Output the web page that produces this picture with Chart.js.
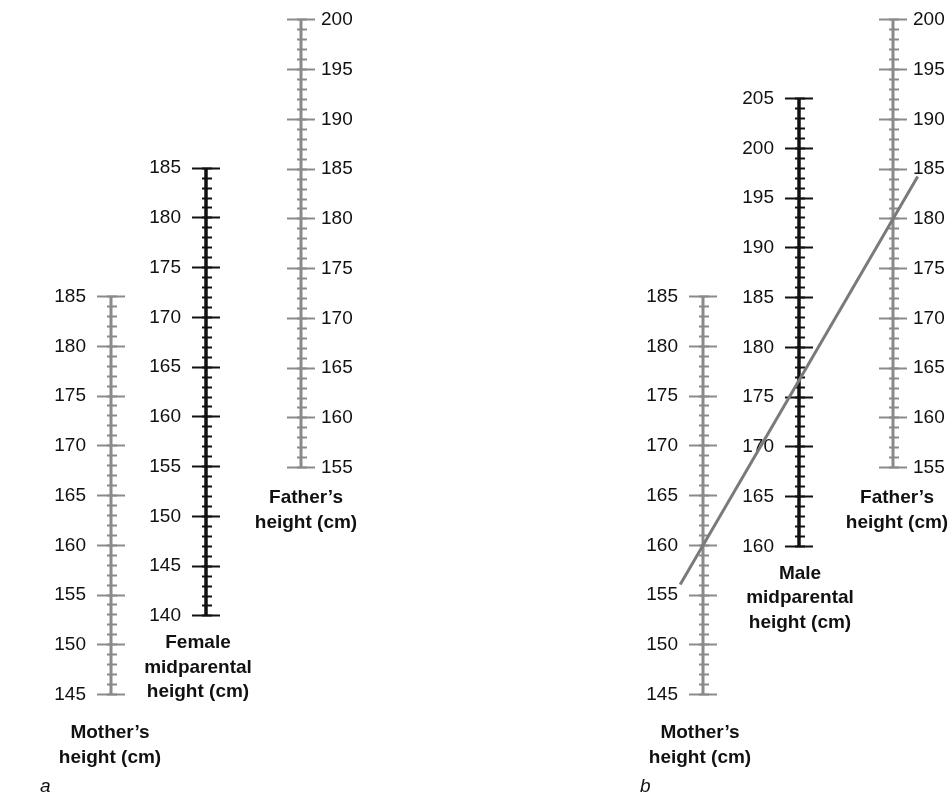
<!DOCTYPE html>
<html>
<head>
<meta charset="utf-8">
<title>Midparental height nomograms</title>
<script src="https://cdn.jsdelivr.net/npm/chart.js@4/dist/chart.umd.min.js"></script>
<style>
  html, body { margin: 0; padding: 0; background: #ffffff; }
  canvas { display: block; }
</style>
</head>
<body>
<canvas id="nomogram" width="951" height="799"></canvas>
<script>
// ---- Scale data (cm) ----
const motherRange = [145, 185];
const fatherRange = [155, 200];
const femaleMidRange = [140, 185];
const maleMidRange = [160, 205];
const midparentalOffset = 6.5;        // girls: (M+F)/2 - 6.5, boys: (M+F)/2 + 6.5
const minorStep = 1;
const majorStep = 5;
const exampleMother = 160;            // worked example on the boys' nomogram
const exampleFather = 180;

const motherTitle = ['Mother\u2019s', 'height (cm)'];
const fatherTitle = ['Father\u2019s', 'height (cm)'];
const femaleTitle = ['Female', 'midparental', 'height (cm)'];
const maleTitle = ['Male', 'midparental', 'height (cm)'];
const panelLetters = ['a', 'b'];

// ---- Layout ----
const W = 951, H = 799;
const PAD_TOP = 18, PAD_BOTTOM = 79;
const PX_PER_CM = 9.95;
const SPAN = (H - PAD_TOP - PAD_BOTTOM) / PX_PER_CM;   // cm shown by every vertical axis
const MOTHER_BASE = 142.44;   // mother's value at the bottom edge of the plot area
const FATHER_BASE = 129.64;   // father's value at the bottom edge of the plot area
const GRAY = '#8a8a8a';
const BLACK = '#111111';
const TEXT = '#111111';
const FONT = '"Liberation Sans", Arial, Helvetica, sans-serif';
const FONT_SIZE = 19;
const LINE_EXTENT = [-0.12, 1.13];   // how far the example line runs past the two parent axes

Chart.defaults.font.family = FONT;

// width of a three-digit label, used to line up the labels on the right of an axis
const measureCtx = document.createElement('canvas').getContext('2d');
measureCtx.font = FONT_SIZE + 'px ' + FONT;
const labelWidth = measureCtx.measureText('200').width;

const axesDef = [
  { id: 'motherA', col: 111, range: motherRange, base: MOTHER_BASE, side: 'left',
    color: GRAY, spine: 3, title: motherTitle, titleDx: -1, titleDy: 38.5 },
  { id: 'femaleMid', col: 206, range: femaleMidRange,
    base: (MOTHER_BASE + FATHER_BASE) / 2 - midparentalOffset, side: 'left',
    color: BLACK, spine: 3.5, title: femaleTitle, titleDx: -8, titleDy: 27 },
  { id: 'fatherA', col: 301, range: fatherRange, base: FATHER_BASE, side: 'right',
    color: GRAY, spine: 3, title: fatherTitle, titleDx: 5, titleDy: 30.5 },
  { id: 'motherB', col: 703, range: motherRange, base: MOTHER_BASE, side: 'left',
    color: GRAY, spine: 3, title: motherTitle, titleDx: -3, titleDy: 38.5 },
  { id: 'maleMid', col: 799, range: maleMidRange,
    base: (MOTHER_BASE + FATHER_BASE) / 2 + midparentalOffset, side: 'left',
    color: BLACK, spine: 3.5, title: maleTitle, titleDx: 1, titleDy: 27 },
  { id: 'fatherB', col: 893, range: fatherRange, base: FATHER_BASE, side: 'right',
    color: GRAY, spine: 3, title: fatherTitle, titleDx: 4, titleDy: 30.5 }
];

const CLEAR = 'rgba(0,0,0,0)';
const inRange = (v, r) => v >= r[0] - 1e-6 && v <= r[1] + 1e-6;

function buildScales() {
  const scales = { x: { type: 'linear', min: 0, max: W, display: false } };
  for (const a of axesDef) {
    const common = {
      type: 'linear', axis: 'y', min: a.base, max: a.base + SPAN,
      position: { x: a.col }
    };
    const tickColor = ctx => (ctx.tick && inRange(ctx.tick.value, a.range)) ? a.color : CLEAR;
    // long ticks every 5 cm, reaching both sides of the axis
    scales[a.id] = Object.assign({}, common, {
      border: { display: true, width: 28, color: CLEAR },
      grid: { display: true, drawOnChartArea: false, drawTicks: true,
              tickLength: -28, tickWidth: 2, tickColor },
      ticks: { display: false, stepSize: majorStep, autoSkip: false, includeBounds: false }
    });
    // short ticks every cm
    scales[a.id + 'Minor'] = Object.assign({}, common, {
      border: { display: true, width: 8, color: CLEAR },
      grid: { display: true, drawOnChartArea: false, drawTicks: true,
              tickLength: -10, tickWidth: 2, tickColor },
      ticks: { display: false, stepSize: minorStep, autoSkip: false, includeBounds: false }
    });
    // numeric labels
    const labelX = a.side === 'left' ? a.col - 25 : a.col + 20 + labelWidth;
    scales[a.id + 'Labels'] = Object.assign({}, common, {
      position: { x: labelX },
      border: { display: false },
      grid: { display: false },
      ticks: {
        display: true, stepSize: majorStep, autoSkip: false, includeBounds: false,
        padding: 0, color: TEXT, font: { size: FONT_SIZE, family: FONT },
        callback: v => inRange(v, a.range) ? String(v) : ''
      }
    });
  }
  return scales;
}

function spineDatasets() {
  return axesDef.map(a => ({
    type: 'line',
    label: a.id,
    xAxisID: 'x',
    yAxisID: a.id,
    data: [{ x: a.col, y: a.range[0] }, { x: a.col, y: a.range[1] }],
    borderColor: a.color,
    borderWidth: a.spine,
    pointRadius: 0,
    borderCapStyle: 'butt',
    fill: false
  }));
}

// Example on the boys' nomogram: mother 160 cm joined to father 180 cm.
// Father values are carried onto the mother's axis (both axes share the same cm scale).
function exampleDataset() {
  const m = axesDef.find(a => a.id === 'motherB');
  const f = axesDef.find(a => a.id === 'fatherB');
  const fatherOnMotherAxis = exampleFather - f.base + m.base;
  const pt = t => ({
    x: m.col + t * (f.col - m.col),
    y: exampleMother + t * (fatherOnMotherAxis - exampleMother)
  });
  return {
    type: 'line',
    label: 'example',
    xAxisID: 'x',
    yAxisID: 'motherB',
    data: [pt(LINE_EXTENT[0]), pt(LINE_EXTENT[1])],
    borderColor: '#7a7a7a',
    borderWidth: 3,
    pointRadius: 0,
    fill: false,
    clip: false
  };
}

// axis titles and panel letters
const titlesPlugin = {
  id: 'axisTitles',
  afterDraw(chart) {
    const ctx = chart.ctx;
    const xs = chart.scales.x;
    ctx.save();
    ctx.fillStyle = TEXT;
    ctx.textAlign = 'center';
    ctx.textBaseline = 'middle';
    ctx.font = 'bold ' + FONT_SIZE + 'px ' + FONT;
    for (const a of axesDef) {
      const cx = xs.getPixelForValue(a.col) + a.titleDx;
      const y0 = chart.scales[a.id].getPixelForValue(a.range[0]) + a.titleDy;
      a.title.forEach((line, i) => ctx.fillText(line, cx, y0 + i * 24.5));
    }
    ctx.font = 'italic ' + FONT_SIZE + 'px ' + FONT;
    ctx.textAlign = 'left';
    ctx.fillText(panelLetters[0], 40, 787);
    ctx.fillText(panelLetters[1], 640, 787);
    ctx.restore();
  }
};

new Chart(document.getElementById('nomogram'), {
  type: 'line',
  data: { datasets: [exampleDataset()].concat(spineDatasets()) },
  options: {
    responsive: false,
    animation: false,
    devicePixelRatio: 1,
    layout: { padding: { top: PAD_TOP, bottom: PAD_BOTTOM, left: 0, right: 0 } },
    plugins: { legend: { display: false }, tooltip: { enabled: false } },
    events: [],
    scales: buildScales()
  },
  plugins: [titlesPlugin]
});
</script>
</body>
</html>
